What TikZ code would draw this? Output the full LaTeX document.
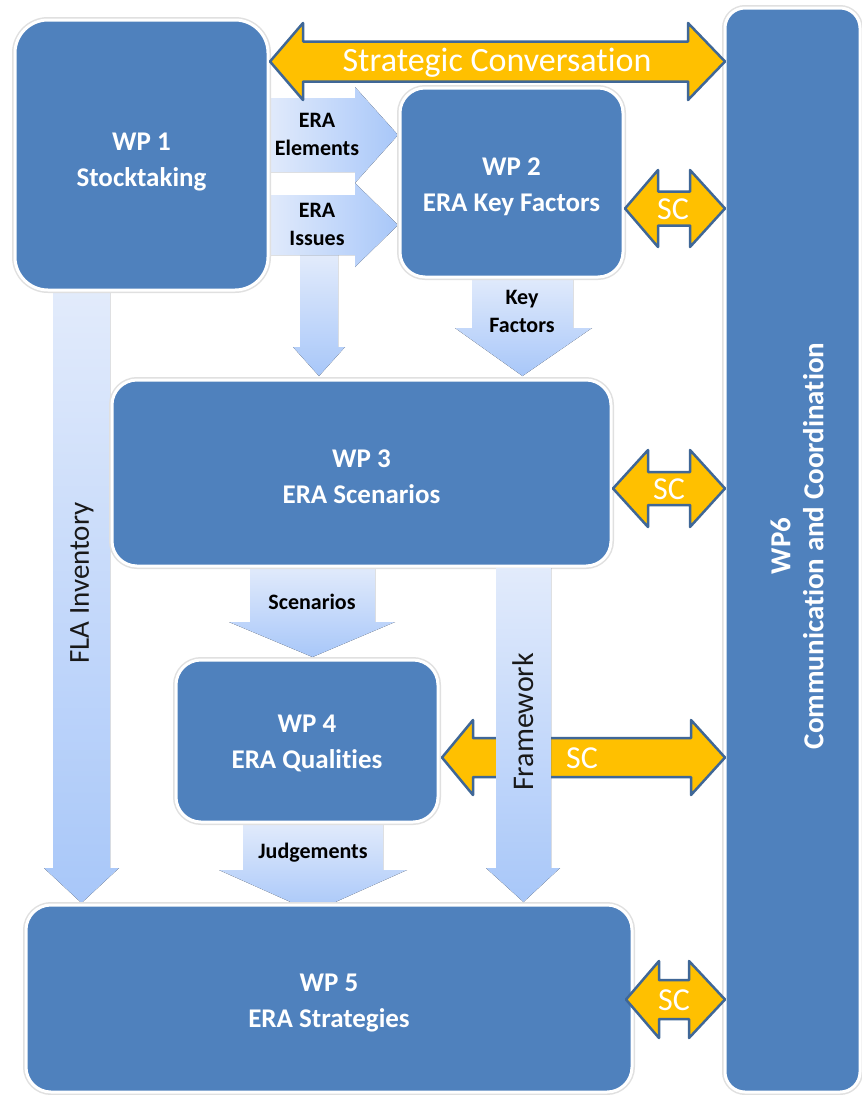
\documentclass[tikz,border=0pt]{standalone}
\usepackage{fontspec}
\setmainfont{Carlito}[Ligatures=NoCommon]
\newcommand{\SCArrow}[7]{%
  \draw[scarrow] (#1,#5) -- (#2,#5-#6) -- (#2,#5-#7) -- (#3,#5-#7) -- (#3,#5-#6) -- (#4,#5)
    -- (#3,#5+#6) -- (#3,#5+#7) -- (#2,#5+#7) -- (#2,#5+#6) -- cycle;}
\newcommand{\DownArrow}[7]{% shaft left, shaft right, top, head start, head left, head right, tip y
  \fill[flowv] (#1,#3) -- (#2,#3) -- (#2,#4) -- (#6,#4) -- ({(#1+#2)/2},#7) -- (#5,#4) -- (#1,#4) -- cycle;}
\newcommand{\RightArrow}[7]{% shaft top, shaft bottom, left, head start, head top, head bottom, tip x
  \fill[flowh] (#3,#1) -- (#4,#1) -- (#4,#5) -- (#7,{(#1+#2)/2}) -- (#4,#6) -- (#4,#2) -- (#3,#2) -- cycle;}
\begin{document}
\begin{tikzpicture}[x=1pt,y=-1pt]
\definecolor{wpblue}{HTML}{4F81BD}
\definecolor{scfill}{HTML}{FFC000}
\definecolor{scline}{HTML}{3F6797}
\definecolor{lblueA}{HTML}{E2EBFB}
\definecolor{lblueB}{HTML}{A8C7F9}
\tikzset{
  wpbox/.style={fill=wpblue, draw=white, line width=3pt, rounded corners=25pt,
    preaction={draw=black!12, line width=6pt}},
  wptext/.style={text=white, font=\bfseries\fontsize{27}{36}\selectfont, align=center},
  scarrow/.style={fill=scfill, draw=scline, line width=2.5pt, line join=round},
  flowh/.style={left color=lblueA, right color=lblueB},
  flowv/.style={top color=lblueA, bottom color=lblueB},
  flowlabel/.style={text=black, font=\bfseries\fontsize{22}{28}\selectfont, align=center, inner sep=0pt},
  sctext/.style={text=white, font=\fontsize{32}{32}\selectfont, inner sep=0pt},
  sidelabel/.style={text=black!90, font=\fontsize{29}{29}\selectfont, rotate=90, inner sep=0pt},
}
\fill[white] (0,0) rectangle (862,1095);
\useasboundingbox (0,0) rectangle (862,1095);

% flow arrows (behind boxes)
\DownArrow{53}{110}{290}{868}{44}{119}{903}
\DownArrow{300}{338}{255}{347}{293}{345}{376}
\DownArrow{472}{573}{275}{328}{455}{592}{376}
\DownArrow{250}{375}{566}{622}{229}{395}{657}
\DownArrow{243}{383}{822}{870}{219}{407}{912}
\RightArrow{98}{172}{266}{355}{87}{183}{398}
\RightArrow{195}{255}{266}{355}{183}{267}{398}

% work packages
\node[wpbox, rounded corners=33pt, minimum width=253pt, minimum height=270pt] (wp1) at (141.5,155) {};
\node[wpbox, minimum width=223pt, minimum height=189pt] (wp2) at (511.5,182.5) {};
\node[wpbox, minimum width=499pt, minimum height=186pt] (wp3) at (361.5,473) {};
\node[wpbox, minimum width=262pt, minimum height=162pt] (wp4) at (307,741) {};
\node[wpbox, minimum width=606pt, minimum height=187pt] (wp5) at (329,998.5) {};
\node[wpbox, rounded corners=20pt, minimum width=135pt, minimum height=1084pt] (wp6) at (792.5,550) {};
\node[wptext, yshift=-7pt] (wp1t) at (wp1) {WP 1\\Stocktaking};
\node[wptext, yshift=-4pt] (wp2t) at (wp2) {WP 2\\ERA Key Factors};
\node[wptext, yshift=-4pt] (wp3t) at (wp3) {WP 3\\ERA Scenarios};
\node[wptext, yshift=-2pt] (wp4t) at (wp4) {WP 4\\ERA Qualities};
\node[wptext, yshift=-5pt] (wp5t) at (wp5) {WP 5\\ERA Strategies};
\node[text=white, font=\bfseries\fontsize{29}{33}\selectfont, align=center, rotate=90] (wp6t) at (797,546) {WP6\\Communication and Coordination};

% SC arrows
\SCArrow{270}{303}{688}{725}{61.5}{38.5}{20}
\SCArrow{625}{658}{690}{725}{208.5}{38.5}{17}
\SCArrow{613}{648}{690}{725}{488.5}{38.5}{16.5}
\SCArrow{442}{473}{691}{725}{757.5}{37.5}{19.5}
\SCArrow{626}{659}{689}{725}{999.5}{38.5}{19.5}
\node[sctext, font=\fontsize{34}{34}\selectfont] (strat) at (497,63) {Strategic Conversation};
\node[sctext] (sc2) at (673,209) {SC};
\node[sctext] (sc3) at (669,489) {SC};
\node[sctext] (sc4) at (582,758) {SC};
\node[sctext] (sc5) at (674,1000) {SC};

% framework arrow (on top of SC arrow)
\DownArrow{496}{551}{568}{868}{486}{560}{902}

% labels
\node[flowlabel] (lel) at (317,134) {ERA\\Elements};
\node[flowlabel] (lis) at (317,224.5) {ERA\\Issues};
\node[flowlabel] (lkf) at (522,311) {Key\\Factors};
\node[flowlabel] (lsc) at (312,602) {Scenarios};
\node[flowlabel] (lju) at (313,853) {Judgements};
\node[sidelabel] (lfla) at (82,583) {FLA Inventory};
\node[sidelabel, font=\fontsize{30}{30}\selectfont] (lfw) at (523,722) {Framework};
\end{tikzpicture}
\end{document}
